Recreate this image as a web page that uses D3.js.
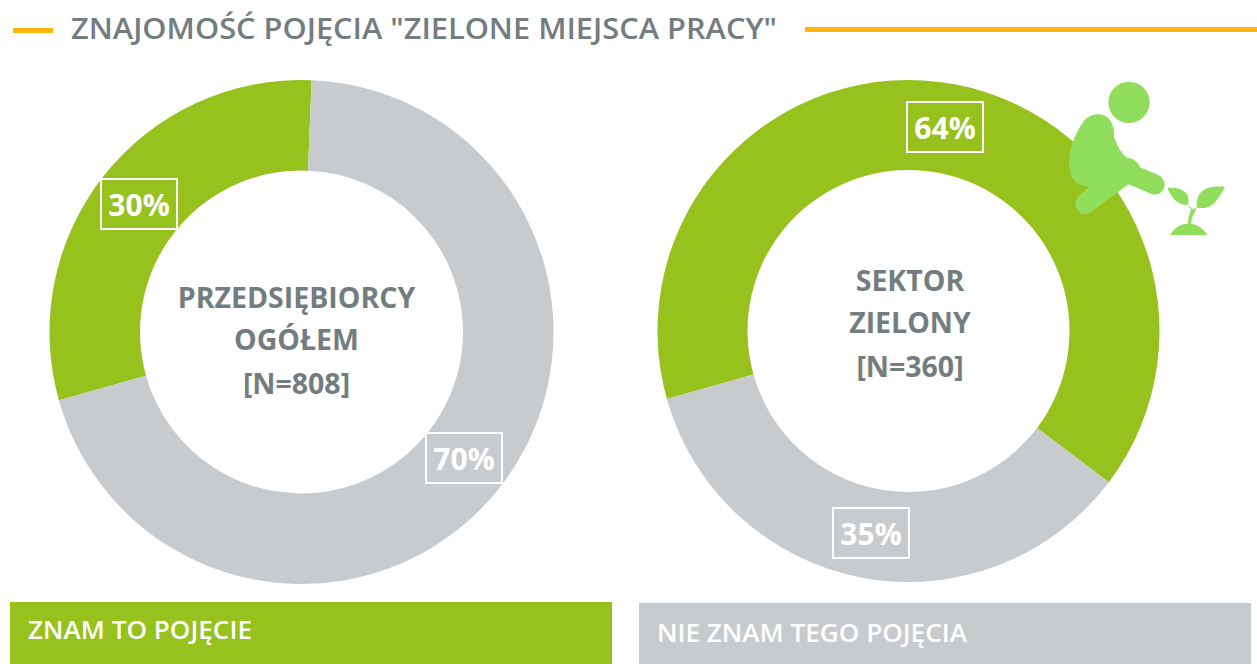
<!DOCTYPE html>
<html><head><meta charset="utf-8">
<script src="https://cdnjs.cloudflare.com/ajax/libs/d3/7.8.5/d3.min.js"></script>
<style>html,body{margin:0;padding:0;background:#fff}svg{display:block}text{font-family:"Open Sans",sans-serif}</style>
</head><body><svg id="c" width="1257" height="664"></svg>
<script>
const titleText = 'ZNAJOMOŚĆ POJĘCIA "ZIELONE MIEJSCA PRACY"';
const categories = ['ZNAM TO POJĘCIE', 'NIE ZNAM TEGO POJĘCIA'];
const leftValues = [30, 70];
const rightValues = [64, 35];
const leftCenter = ['PRZEDSIĘBIORCY', 'OGÓŁEM', '[N=808]'];
const rightCenter = ['SEKTOR', 'ZIELONY', '[N=360]'];
const colors = ['#97C11D', '#C8CBCE'];
const grey = '#737D80', amber = '#FFB60B', iconGreen = '#90DE5C';

const svg = d3.select('#c');
svg.append('rect').attr('x',13).attr('y',28).attr('width',40).attr('height',5).attr('fill',amber);
svg.append('rect').attr('x',805).attr('y',27).attr('width',452).attr('height',5).attr('fill',amber);
svg.append('text').attr('x',71).attr('y',39).attr('font-size',29).attr('font-weight',600)
  .attr('textLength',706).attr('lengthAdjust','spacingAndGlyphs').attr('fill',grey).text(titleText);

const pie = d3.pie().sort(null).startAngle(254.3*Math.PI/180).endAngle((254.3+360)*Math.PI/180);

function donut(values, cx, cy, R, r, centerLines, lineYs, labels){
  const g = svg.append('g').attr('transform',`translate(${cx},${cy})`);
  const arc = d3.arc().innerRadius(r).outerRadius(R);
  g.selectAll('path').data(pie(values)).join('path').attr('d',arc).attr('fill',(d,i)=>colors[i]);
  centerLines.forEach((t,i)=>{
    svg.append('text').attr('x',cx+(labels.dx||0)).attr('y',lineYs[i]).attr('text-anchor','middle')
      .attr('font-size',28.5).attr('font-weight',700).attr('fill',grey).text(t);
  });
  values.forEach((v,i)=>{
    const p = labels.pos[i];
    svg.append('rect').attr('x',p[0]).attr('y',p[1]).attr('width',76).attr('height',50)
      .attr('fill','none').attr('stroke','#fff').attr('stroke-width',2);
    svg.append('text').attr('x',p[0]+38).attr('y',p[1]+37).attr('text-anchor','middle')
      .attr('font-size',30).attr('font-weight',700).attr('fill','#fff').text(v+'%');
  });
}
donut(leftValues,301.5,332,252,161.5,leftCenter,[308,350,394],{pos:[[101,179],[426,433]],dx:-5});
donut(rightValues,908.5,331,251,161,rightCenter,[291,333,377],{pos:[[907,102],[833,508]],dx:1.5});

// icon (gardener and seedling), outline
const icon = svg.append('g').attr('transform','translate(1050,70) scale(0.3333)').attr('fill',iconGreen);
icon.append('circle').attr('cx',237).attr('cy',97).attr('r',62);
icon.append('path').attr('d','M145,133 C175,133 195,160 192,200 C205,235 220,262 240,265 C255,268 265,280 270,292 L325,315 C345,325 350,350 335,365 C325,375 312,376 300,370 L235,343 L125,425 C105,440 85,430 78,410 C73,395 80,385 90,375 L118,350 C85,350 65,335 58,295 C55,240 70,200 100,155 C112,140 130,133 145,133Z');
icon.append('path').attr('d','M352,354 C375,352 400,355 412,375 C418,388 416,400 412,405 C390,405 370,395 352,354Z');
icon.append('path').attr('d','M525,350 C495,348 465,350 450,370 C440,385 437,405 442,413 C470,418 495,412 525,350Z');
icon.append('path').attr('d','M410,402 L430,418 L440,410 L434,428 C428,438 424,445 424,464 L414,464 C414,440 420,428 424,418Z');
icon.append('path').attr('d','M360,495 C375,470 395,461 416,461 C440,461 460,475 472,495Z');

// legend bars
const legend = [[10,602,602,62,28,639],[639,603,612,61,657,642]];
const legendWidths = [224, 310];
categories.forEach((c,i)=>{
  const l = legend[i];
  svg.append('rect').attr('x',l[0]).attr('y',l[1]).attr('width',l[2]).attr('height',l[3]).attr('fill',colors[i]);
  svg.append('text').attr('x',l[4]).attr('y',l[5]).attr('font-size',26).attr('font-weight',600)
    .attr('textLength',legendWidths[i]).attr('lengthAdjust','spacingAndGlyphs').attr('fill','#fff').text(c);
});
</script></body></html>
